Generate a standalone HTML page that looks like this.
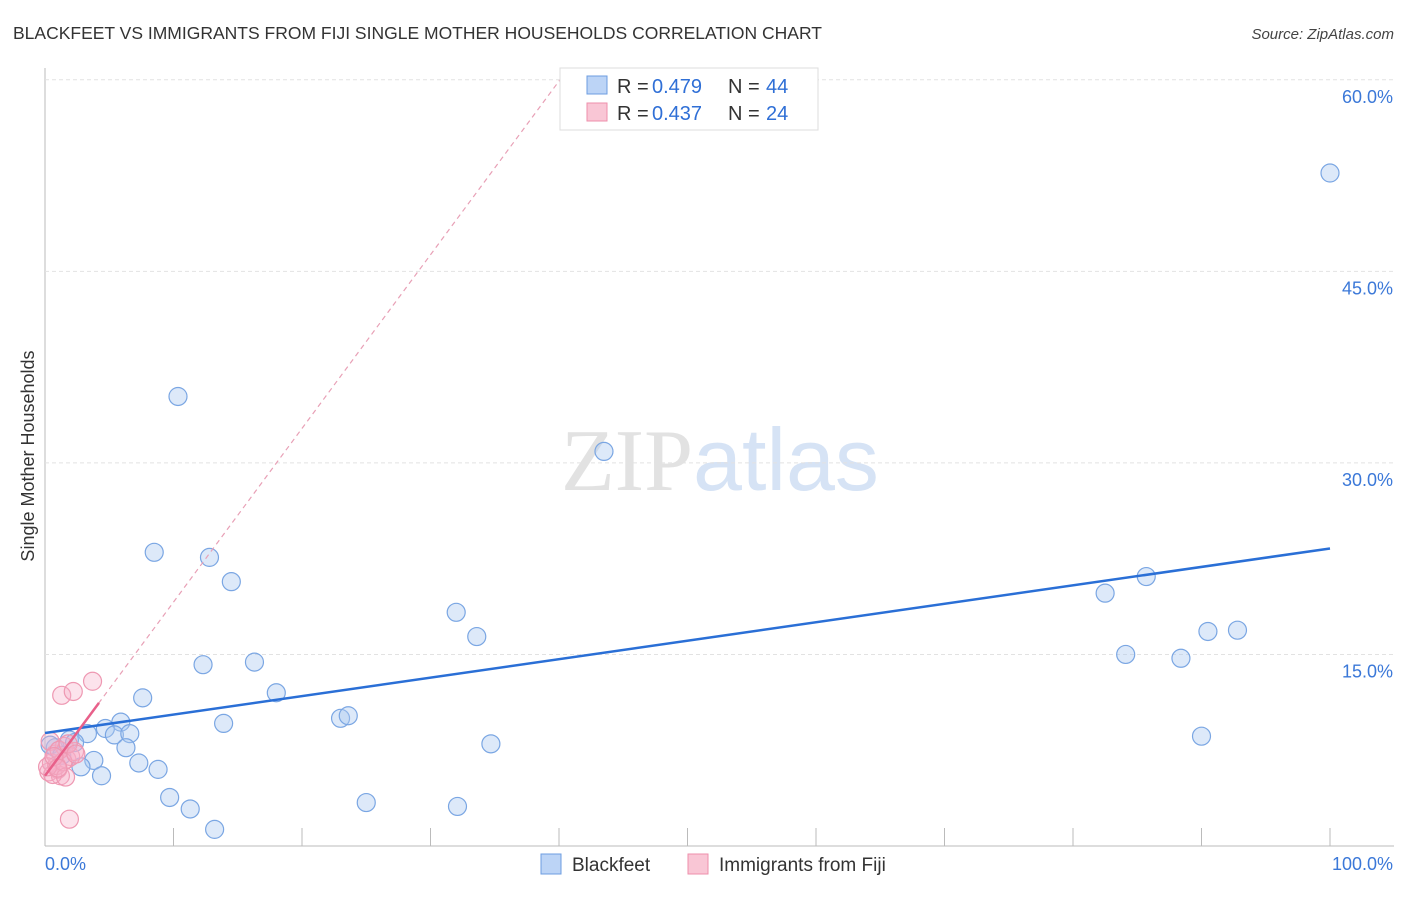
<!DOCTYPE html>
<html><head><meta charset="utf-8"><style>
body{margin:0;background:#fff;font-family:"Liberation Sans",sans-serif;}
</style></head><body>
<svg id="chart" width="1406" height="892" xmlns="http://www.w3.org/2000/svg" font-family="Liberation Sans, sans-serif">
<text x="13" y="39" font-size="17.5" fill="#333">BLACKFEET VS IMMIGRANTS FROM FIJI SINGLE MOTHER HOUSEHOLDS CORRELATION CHART</text>
<text x="1394" y="39" font-size="15" fill="#444" text-anchor="end" font-style="italic">Source: ZipAtlas.com</text>
<text transform="translate(34,456) rotate(-90)" font-size="18" fill="#333" text-anchor="middle">Single Mother Households</text>
<text x="720" y="490" font-size="88" text-anchor="middle"><tspan fill="#e2e2e2" font-family="Liberation Serif, serif">ZIP</tspan><tspan fill="#d6e3f5">atlas</tspan></text>
<g id="grid"></g><g id="marks"></g>
<g>
<rect x="560" y="68" width="258" height="62" fill="#fff" stroke="#ddd"/>
<rect x="587" y="76" width="20" height="18" fill="#bcd4f6" stroke="#6d9de0"/>
<rect x="587" y="103" width="20" height="18" fill="#f9c6d5" stroke="#ee8fab"/>
<text x="617" y="93" font-size="20" fill="#333">R =</text><text x="652" y="93" font-size="20" fill="#2f6fd6">0.479</text>
<text x="728" y="93" font-size="20" fill="#333">N =</text><text x="766" y="93" font-size="20" fill="#2f6fd6">44</text>
<text x="617" y="120" font-size="20" fill="#333">R =</text><text x="652" y="120" font-size="20" fill="#2f6fd6">0.437</text>
<text x="728" y="120" font-size="20" fill="#333">N =</text><text x="766" y="120" font-size="20" fill="#2f6fd6">24</text>
</g>
<g>
<rect x="541" y="854" width="20" height="20" fill="#bcd4f6" stroke="#6d9de0"/>
<text x="572" y="871" font-size="19" fill="#333">Blackfeet</text>
<rect x="688" y="854" width="20" height="20" fill="#f9c6d5" stroke="#ee8fab"/>
<text x="719" y="871" font-size="19" fill="#333">Immigrants from Fiji</text>
</g>
</svg>
<script>
const yTicks=[15,30,45,60];
const yTickLabels=["15.0%","30.0%","45.0%","60.0%"];
const blueX=[100,10.35,43.5,8.5,12.8,14.5,32.0,33.6,85.7,82.5,90.5,92.8,84.1,88.4,90.0,12.3,16.3,18.0,7.6,13.9,23.0,23.6,34.7,5.9,4.7,3.3,5.4,6.6,6.3,7.3,8.8,3.8,2.8,4.4,9.7,11.3,13.2,25.0,32.1,1.9,0.8,0.4,1.3,2.3];
const blueY=[52.7,35.2,30.9,23.0,22.6,20.7,18.3,16.4,21.1,19.8,16.8,16.9,15.0,14.7,8.6,14.2,14.4,12.0,11.6,9.6,10.0,10.2,8.0,9.7,9.2,8.8,8.7,8.8,7.7,6.5,6.0,6.7,6.2,5.5,3.8,2.9,1.3,3.4,3.1,8.3,7.7,7.9,7.1,8.1];
const pinkX=[1.3,2.2,3.7,1.9,0.3,0.5,0.8,1.0,1.2,1.5,1.7,2.0,2.3,0.4,0.6,0.9,1.1,1.4,1.6,0.2,0.7,1.8,2.4,1.0];
const pinkY=[11.8,12.1,12.9,2.1,5.8,6.5,7.2,6.0,5.5,7.8,6.8,7.0,7.4,8.2,5.6,6.3,7.5,6.6,5.4,6.2,7.0,8.0,7.2,6.1];
const blueTrend=[8.85,23.3];
const pinkTrend=[5.5,1.36];
const X=v=>45+v*12.85, Y=v=>846-v*12.77;
const NS="http://www.w3.org/2000/svg";
const grid=document.getElementById('grid'), marks=document.getElementById('marks');
function mk(p,tag,a){const e=document.createElementNS(NS,tag);for(const k in a)e.setAttribute(k,a[k]);p.appendChild(e);return e;}
let ax=mk(grid,'line',{x1:45,y1:68,x2:45,y2:846,stroke:'#bbb'});


let bx=mk(grid,'line',{x1:45,y1:846,x2:1394,y2:846,stroke:'#bbb'});


for(let i=1;i<=10;i++){let t=mk(grid,'line',{x1:X(i*10),x2:X(i*10),y1:828,y2:846,stroke:'#bbb'});

}
yTicks.forEach((v,i)=>{let g=mk(grid,'line',{x1:45,x2:1394,y1:Y(v),y2:Y(v),stroke:'#e2e2e2','stroke-dasharray':'4,3'});


let t=mk(grid,'text',{x:1393,y:Y(v)+23,'font-size':18,fill:'#3b78d8','text-anchor':'end'});t.textContent=yTickLabels[i];

});
let l0=mk(grid,'text',{x:45,y:870,'font-size':18,fill:'#3b78d8'});l0.textContent='0.0%';


let l1=mk(grid,'text',{x:1393,y:870,'font-size':18,fill:'#3b78d8','text-anchor':'end'});l1.textContent='100.0%';


blueX.forEach((x,i)=>{let c=mk(marks,'circle',{cx:X(x),cy:Y(blueY[i]),r:9,fill:'rgba(170,200,240,0.4)',stroke:'#7aa6e3','stroke-width':1.2});

});
pinkX.forEach((x,i)=>{let c=mk(marks,'circle',{cx:X(x),cy:Y(pinkY[i]),r:9,fill:'rgba(245,175,200,0.35)',stroke:'#ee98b2','stroke-width':1.2});

});
let bt=mk(marks,'line',{x1:X(0),y1:Y(blueTrend[0]),x2:X(100),y2:Y(blueTrend[1]),stroke:'#2a6fd6','stroke-width':2.5});


const pEnd=(60-pinkTrend[0])/pinkTrend[1];
let pd=mk(marks,'line',{x1:X(0),y1:Y(pinkTrend[0]),x2:X(pEnd),y2:Y(60),stroke:'#e8a0b6','stroke-width':1.2,'stroke-dasharray':'5,4'});


let ps=mk(marks,'line',{x1:X(0),y1:Y(pinkTrend[0]),x2:X(4.2),y2:Y(pinkTrend[0]+pinkTrend[1]*4.2),stroke:'#e8608a','stroke-width':2.5});


</script>
</body></html>
